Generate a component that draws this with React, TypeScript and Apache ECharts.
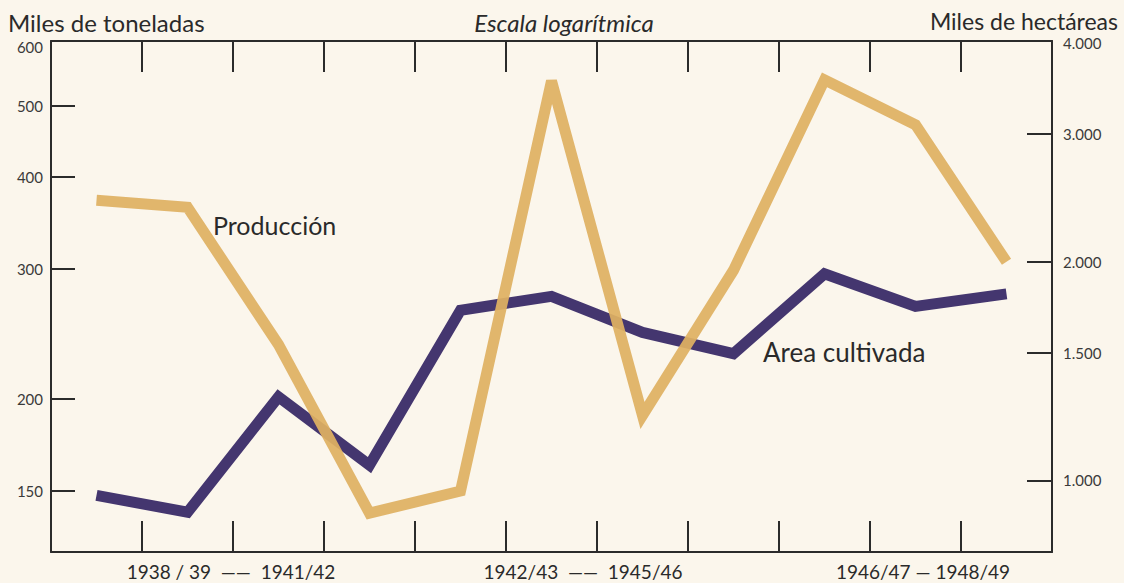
import React, { useEffect, useRef } from "react";
import * as echarts from "echarts";

const categories = ["1938/39", "1939/40", "1940/41", "1941/42", "1942/43", "1943/44", "1944/45", "1945/46", "1946/47", "1947/48", "1948/49"];
const produccion = [372, 364, 237, 140, 150, 540, 190, 299, 542, 471, 307];
const areaCultivada = [954, 904, 1304, 1050, 1716, 1793, 1599, 1495, 1926, 1737, 1807];
const leftTickValues = [150, 200, 300, 400, 500];
const leftLabelValues = [150, 200, 300, 400, 500, 600];
const rightTickValues = [1000, 1500, 2000, 3000];
const rightLabelValues = [1000, 1500, 2000, 3000, 4000];
const periodLabels = ["1938 / 39  ——  1941/42", "1942/43  ——  1945/46", "1946/47 — 1948/49"];

const INK = "#2b2b2b";
const FONT = "Lato, 'DejaVu Sans', sans-serif";

function fmtThousands(v: number): string {
  const r = Math.round(v);
  if (r < 1000) return String(r);
  return Math.floor(r / 1000) + "." + String(r % 1000).padStart(3, "0");
}

export default function App() {
  const ref = useRef<HTMLDivElement>(null);
  useEffect(() => {
    if (!ref.current) return;
    const chart = echarts.init(ref.current, undefined, { renderer: "svg" });
    const xAxisBase = {
      type: "category" as const,
      data: categories,
      boundaryGap: true,
      axisLine: { show: true, lineStyle: { color: INK, width: 2 } },
      axisTick: { show: true, inside: true, length: 31, interval: 0, lineStyle: { color: INK, width: 2 } },
      axisLabel: { show: false },
      splitLine: { show: false },
    };
    chart.setOption({
      animation: false,
      backgroundColor: "#fbf6ec",
      grid: { left: 51, right: 72, top: 41, bottom: 31, containLabel: false, outerBoundsMode: "none" },
      xAxis: [
        { ...xAxisBase, position: "bottom" },
        { ...xAxisBase, position: "top" },
      ],
      yAxis: [
        {
          type: "log",
          logBase: 10,
          min: 124,
          max: 612,
          position: "left",
          axisLine: { show: true, lineStyle: { color: INK, width: 2 } },
          axisTick: { show: true, inside: true, length: 24, customValues: leftTickValues, lineStyle: { color: INK, width: 2 } },
          axisLabel: { show: true, customValues: leftLabelValues, margin: 8, color: "#3a3a3a", fontSize: 15, fontFamily: FONT, formatter: (v: number) => String(Math.round(v)) },
          splitLine: { show: false },
          minorTick: { show: false },
        },
        {
          type: "log",
          logBase: 10,
          min: 797,
          max: 4030,
          position: "right",
          axisLine: { show: true, lineStyle: { color: INK, width: 2 } },
          axisTick: { show: true, inside: true, length: 25, customValues: rightTickValues, lineStyle: { color: INK, width: 2 } },
          axisLabel: { show: true, customValues: rightLabelValues, margin: 11, color: "#3a3a3a", fontSize: 15, fontFamily: FONT, formatter: (v: number) => fmtThousands(v) },
          splitLine: { show: false },
          minorTick: { show: false },
        },
      ],
      series: [
        {
          name: "Area cultivada",
          type: "line",
          xAxisIndex: 0,
          yAxisIndex: 1,
          data: areaCultivada,
          showSymbol: false,
          lineStyle: { color: "#44366f", width: 11, cap: "butt", join: "miter" },
          z: 2,
        },
        {
          name: "Producción",
          type: "line",
          xAxisIndex: 0,
          yAxisIndex: 0,
          data: produccion,
          showSymbol: false,
          lineStyle: { color: "#dfb062", width: 11, opacity: 0.93, cap: "butt", join: "miter" },
          z: 3,
        },
      ],
      graphic: [
        { type: "text", x: 8, y: 22, style: { text: "Miles de toneladas", font: `24px ${FONT}`, fill: "#2a2a2a", verticalAlign: "middle", align: "left" } },
        { type: "text", x: 564, y: 22, style: { text: "Escala logarítmica", font: `italic 24px ${FONT}`, fill: "#2a2a2a", verticalAlign: "middle", align: "center" } },
        { type: "text", x: 1118, y: 21, style: { text: "Miles de hectáreas", font: `23px ${FONT}`, fill: "#2a2a2a", verticalAlign: "middle", align: "right" } },
        { type: "text", x: 213, y: 225, style: { text: "Producción", font: `25px ${FONT}`, fill: "#2a2a2a", verticalAlign: "middle", align: "left" } },
        { type: "text", x: 763, y: 352, style: { text: "Area cultivada", font: `26px ${FONT}`, fill: "#2a2a2a", verticalAlign: "middle", align: "left" } },
        { type: "text", x: 231, y: 571, style: { text: periodLabels[0], font: `19px ${FONT}`, fill: "#2a2a2a", verticalAlign: "middle", align: "center" } },
        { type: "text", x: 583, y: 571, style: { text: periodLabels[1], font: `19px ${FONT}`, fill: "#2a2a2a", verticalAlign: "middle", align: "center" } },
        { type: "text", x: 923, y: 571, style: { text: periodLabels[2], font: `19px ${FONT}`, fill: "#2a2a2a", verticalAlign: "middle", align: "center" } },
      ],
    });
    return () => chart.dispose();
  }, []);
  return <div ref={ref} style={{ position: "fixed", left: 0, top: 0, width: 1124, height: 583 }} />;
}
